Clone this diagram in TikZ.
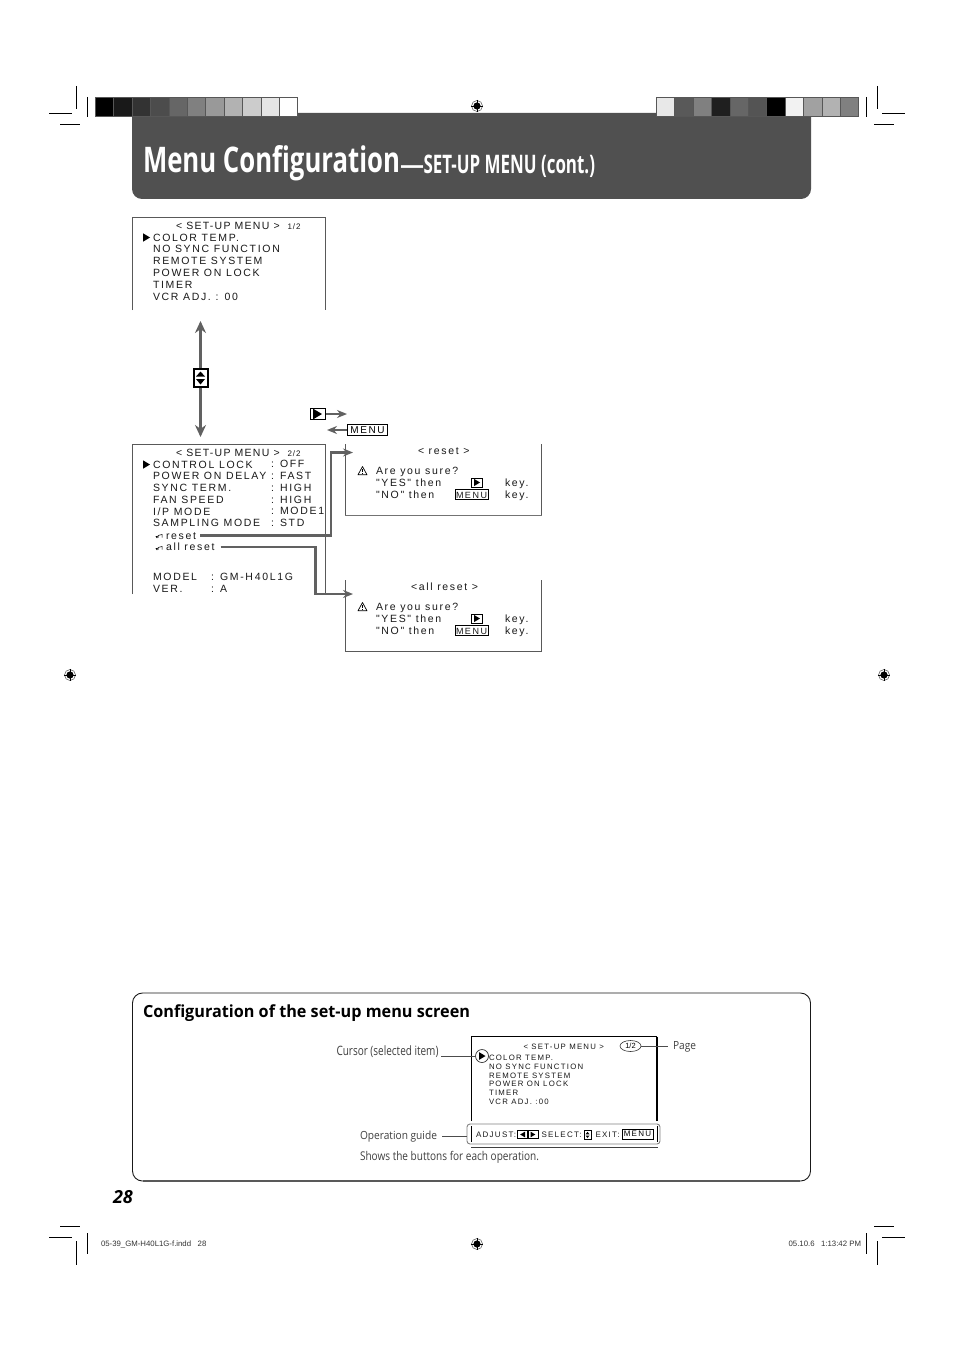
\documentclass[tikz,border=0pt]{standalone}
\usepackage{fontspec}
\usepackage{graphicx}
\usetikzlibrary{arrows.meta,calc,shapes.geometric}
\setmainfont{Open Sans}
\newfontfamily\hv[LetterSpace=16]{Liberation Sans}
\newfontfamily\hvplain{Liberation Sans}
\newfontfamily\hvwide[LetterSpace=12]{Liberation Sans}
\newcounter{lbl}
\tikzset{
  x=1pt,y=-1pt,
  lbl/.style={inner sep=0,outer sep=0,anchor=west,text height=.72em,text depth=0pt,font=\hv\fontsize{10.5}{12}\selectfont,text=black!90},
  small/.style={lbl,font=\hv\fontsize{7.8}{9}\selectfont},
  guide/.style={lbl,font=\hv\fontsize{8}{9}\selectfont},
  note/.style={lbl,font=\fontsize{10}{12}\selectfont,text=black!75},
  crop/.style={line width=.7pt,black},
  scr/.style={line width=.6pt,black!65},
  flow/.style={line width=2.8pt,black!62,-{Stealth[length=10pt,width=8pt]}},
  oparrow/.style={line width=2.4pt,black!62,-{Stealth[length=10pt,width=8pt]}},
  dbl/.style={line width=3.4pt,black!62,{Stealth[length=12pt,width=11pt]}-{Stealth[length=12pt,width=11pt]}},
  lead/.style={line width=.6pt,black!70},
  keybox/.style={line width=.8pt,black},
}
\newcommand\tl[4][lbl]{\stepcounter{lbl}\node[#1] (t\thelbl) at (#2,#3) {#4};}
\newcommand\reg[2]{%
  \draw[line width=.5pt,black!70] (#1,#2) circle (5.5);
  \fill[black] (#1,#2) circle (3.6);
  \draw[line width=.8pt,white] (#1-4,#2) -- (#1+4,#2) (#1,#2-4) -- (#1,#2+4);
  \draw[line width=.3pt,black] (#1-6.2,#2) -- (#1+6.2,#2) (#1,#2-6.2) -- (#1,#2+6.2);}
\newcommand\tri[3]{\fill[black] (#1,#2-#3*.6) -- (#1+#3,#2) -- (#1,#2+#3*.6) -- cycle;}
\newcommand\ltri[3]{\fill[black] (#1,#2-#3*.6) -- (#1-#3,#2) -- (#1,#2+#3*.6) -- cycle;}
\newcommand\playkey[2]{\draw[keybox] (#1-5.5,#2-4.5) rectangle (#1+5.5,#2+4.5); \tri{#1-3}{#2}{6}}
\newcommand\menukey[2]{\draw[keybox] (#1,#2-4.7) rectangle (#1+33,#2+4.7);
  \tl[lbl,font=\hvplain\fontsize{9}{10}\selectfont]{#1+1}{#2}{M\,E\,N\,U}}
\newcommand\warn[2]{\draw[line width=.7pt,black,line join=round] (#1,#2-4.5) -- (#1+4.5,#2+3.8) -- (#1-4.5,#2+3.8) -- cycle;
  \draw[line width=.9pt,black] (#1,#2-2) -- (#1,#2+1.2) (#1,#2+2) -- (#1,#2+3);}
\newcommand\undo[2]{\draw[line width=.5pt,black,-{Stealth[length=2.5pt,width=2.5pt]}] (#1+7,#2+2.5) -- (#1+7,#2-.5) -- (#1+3,#2+.5) -- (#1+3,#2+2.5) -- (#1+.5,#2+1);}
\newcommand\fit[3]{\resizebox{#1pt}{#2pt}{#3}}
\begin{document}
\begin{tikzpicture}
\fill[white] (0,0) rectangle (954,1351);
\useasboundingbox (0,0) rectangle (954,1351);

% title band
\fill[black!68.5] (132,113) -- (811,113) -- (811,189) to[out=270,in=0] (801,199) -- (142,199) to[out=180,in=270] (132,189) -- cycle;
\tl[lbl,font=\bfseries,text=white,anchor=base west,text height=,text depth=]{143}{172.5}{\fit{257}{27}{Menu Configuration}}
\tl[lbl,font=\bfseries\fontsize{24}{26}\selectfont,text=white,anchor=base west,text height=,text depth=]{400}{173.5}{—}
\tl[lbl,font=\bfseries,text=white,anchor=base west,text height=,text depth=]{423.5}{173.5}{\fit{171.5}{18.5}{SET-UP MENU (cont.)}}

% colour bars
\fill[black!66] (95,97) rectangle (298,117);
\fill[black!66] (656,97) rectangle (859,117);
\foreach \g [count=\i from 0] in {100,90,80,70,60,50,40,30,20,10,0} {\fill[black!\g] ({96+\i*18.4},98) rectangle ++(17.4,18);}
\foreach \g [count=\i from 0] in {9,65,50,88,60,67,100,5,37,30,50} {\fill[black!\g] ({657+\i*18.4},98) rectangle ++(17.4,18);}

% crop marks
\draw[crop] (76,86) -- (76,109) (49,113.5) -- (72,113.5) (60,124) -- (80,124) (87,97) -- (87,117);
\draw[crop] (877,86) -- (877,109) (882,113.5) -- (905,113.5) (874,124) -- (894,124) (866,97) -- (866,117);
\draw[crop] (60,1226) -- (80,1226) (49,1237) -- (72,1237) (87,1233) -- (87,1254) (76,1241) -- (76,1265);
\draw[crop] (874,1226) -- (894,1226) (882,1237) -- (905,1237) (866,1233) -- (866,1254) (877,1241) -- (877,1265);
\reg{477}{106}\reg{70}{675}\reg{884}{675}\reg{477}{1244}

% menu 1/2
\draw[scr] (132.5,310) -- (132.5,217.5) -- (325.5,217.5) -- (325.5,310);
\tl[lbl,font=\hvwide\fontsize{10.5}{12}\selectfont]{176}{226}{< SET-UP MENU >}
\tl[lbl,font=\hvwide\fontsize{8}{9}\selectfont]{287.5}{226}{1/2}
\tri{143}{237.5}{7}
\tl{153}{237.5}{COLOR TEMP.}
\tl{153}{249}{NO SYNC FUNCTION}
\tl{153}{261}{REMOTE SYSTEM}
\tl{153}{272.5}{POWER ON LOCK}
\tl{153}{284.5}{TIMER}
\tl{153}{296.5}{VCR ADJ. : 00}

% scroll arrow
\coordinate (scrolltop) at (200.5,321);
\coordinate (scrollbot) at (200.5,437);
\draw[dbl] (scrolltop) -- (scrollbot);
\draw[line width=2pt,black,fill=white] (193.5,369) rectangle (207.5,386.5);
\fill[black] (196,376.5) -- (200.5,371.5) -- (205,376.5) -- cycle;
\fill[black] (196,379) -- (200.5,384.5) -- (205,379) -- cycle;

% key arrows
\node[draw=black,line width=1.4pt,inner sep=0,minimum width=15pt,minimum height=11.5pt] (playkey) at (318,414) {};
\tri{313}{414}{9}
\coordinate (playtip) at (347,414);
\draw[oparrow] (playkey.east) -- (playtip);
\node[draw=black,line width=.9pt,inner sep=0,minimum width=40.5pt,minimum height=11pt,font=\hv\fontsize{10}{11}\selectfont] (menukey) at (367.5,430) {MENU};
\coordinate (menutip) at (327,430);
\draw[oparrow] (menukey.west) -- (menutip);

% menu 2/2
\draw[scr] (132.5,594) -- (132.5,444.5) -- (325.5,444.5) -- (325.5,594);
\tl[lbl,font=\hvwide\fontsize{10.5}{12}\selectfont]{176}{452.5}{< SET-UP MENU >}
\tl[lbl,font=\hvwide\fontsize{8}{9}\selectfont]{287.5}{452.5}{2/2}
\tri{143}{464.5}{7}
\tl{153}{464.5}{CONTROL LOCK}
\tl{271}{464}{: OFF}
\tl{153}{476}{POWER ON DELAY}
\tl{271}{476}{: FAST}
\tl{153}{487.5}{SYNC TERM.}
\tl{271}{487.5}{: HIGH}
\tl{153}{499.5}{FAN SPEED}
\tl{271}{499.5}{: HIGH}
\tl{153}{511.5}{I/P MODE}
\tl{271}{510.5}{: MODE1}
\tl{153}{522.5}{SAMPLING MODE}
\tl{271}{522.5}{: STD}
\undo{155}{535}
\node[lbl] (resetitem) at (166,535.5) {reset};
\undo{155}{547}
\node[lbl] (allitem) at (166,547) {all reset};
\tl{153}{576.5}{MODEL}
\tl{211}{576.5}{: GM-H40L1G}
\tl{153}{588.5}{VER.}
\tl{211}{588.5}{: A}

% confirmation screens
\draw[scr] (345.5,444) -- (345.5,515.5);
\draw[scr] (541.5,444) -- (541.5,515.5);
\draw[line width=1.5pt,black!55] (345,515.5) -- (542,515.5);
\draw[scr] (345.5,580) -- (345.5,651.5) -- (541.5,651.5) -- (541.5,580);
\coordinate (resetin) at (353,452.5);
\coordinate (resetbend) at (331,452.5);
\coordinate (allin) at (353,594);
\coordinate (allbend) at (315.5,594);
\draw[flow,shorten <=4pt] (resetitem.east) -| (resetbend) -- (resetin);
\draw[flow,shorten <=6pt] (allitem.east) -| (allbend) -- (allin);

\tl{418}{451}{< reset >}
\warn{362.5}{471}
\tl{376}{471}{Are you sure?}
\tl{376}{483}{"YES" then}
\tl{505}{483}{key.}
\tl{376}{495}{"NO" then}
\tl{505}{495}{key.}
\playkey{477}{482.5}
\menukey{455}{494.5}

\tl{411}{587}{<all reset >}
\warn{362.5}{607}
\tl{376}{607}{Are you sure?}
\tl{376}{619}{"YES" then}
\tl{505}{619}{key.}
\tl{376}{631}{"NO" then}
\tl{505}{631}{key.}
\playkey{477}{618.5}
\menukey{455}{630.5}

% bottom panel
\draw[line width=.9pt,black!90,rounded corners=10pt] (132.5,993) rectangle (810.5,1181);
\draw[line width=1.6pt,black!65] (143,1181) -- (800,1181);
\tl[lbl,font=\bfseries,text=black,anchor=base west,text height=,text depth=]{143}{1017}{\fit{327}{12.8}{Configuration of the set-up menu screen}}

% sample screen
\draw[line width=.7pt,black] (471.5,1121) -- (471.5,1036.5) -- (657,1036.5);
\draw[line width=1.2pt,black] (657,1036.5) -- (657,1121);
\draw[line width=1pt,black!75] (471,1147) -- (658,1147);
\tl[small]{523.5}{1046}{< SET-UP MENU >}
\node[draw=black!80,line width=.6pt,ellipse,inner sep=0,minimum width=21pt,minimum height=11pt,font=\hvplain\fontsize{7.5}{8}\selectfont] (pageoval) at (630.5,1046) {1/2};
\tl[small]{489}{1056.5}{COLOR TEMP.}
\tl[small]{489}{1066}{NO SYNC FUNCTION}
\tl[small]{489}{1074.5}{REMOTE SYSTEM}
\tl[small]{489}{1083}{POWER ON LOCK}
\tl[small]{489}{1092}{TIMER}
\tl[small]{489}{1101}{VCR ADJ. :00}
\node[draw=black!80,line width=.7pt,circle,inner sep=0,minimum size=13pt] (cursor) at (482,1056) {};
\tri{479}{1056}{6.5}

\node[note,anchor=east] (cursorlbl) at (438.5,1052) {\fit{102}{9.8}{Cursor (selected item)}};
\node[note] (pagelbl) at (673,1045.5) {\fit{23}{8}{Page}};
\node[note] (oplbl) at (360,1135.5) {\fit{77}{8.5}{Operation guide}};
\tl[note]{360}{1156.5}{\fit{179}{9.2}{Shows the buttons for each operation.}}
\coordinate (curknee) at (441,1056);
\draw[lead] (curknee) -- (cursor.west);
\coordinate (pageend) at (668,1046);
\draw[lead] (pageoval.east) -- (pageend);

% guide
\node[draw=black!50,line width=.9pt,rounded corners=3pt,inner sep=0,minimum width=193pt,minimum height=20pt] (guidebox) at (563.5,1134) {};
\coordinate (opend) at (442,1136);
\draw[lead] (opend) -- (opend -| guidebox.west);
\draw[line width=.8pt,black] (471.5,1126) -- (471.5,1142);
\draw[line width=.8pt,black] (657,1126) -- (657,1142);
\tl[guide]{476}{1134}{ADJUST:}
\draw[line width=.7pt,black] (517.5,1130.5) rectangle (527,1138.5);
\ltri{525}{1134.5}{4.8}
\draw[line width=.7pt,black] (528.5,1130.5) rectangle (538,1138.5);
\tri{530.5}{1134.5}{4.8}
\tl[guide]{541.5}{1134}{SELECT:}
\draw[line width=.7pt,black] (584,1130.5) rectangle (591,1139);
\fill[black] (585.5,1134.3) -- (587.5,1131.8) -- (589.5,1134.3) -- cycle;
\fill[black] (585.5,1135.5) -- (587.5,1138) -- (589.5,1135.5) -- cycle;
\tl[guide]{595.5}{1134}{EXIT:}
\node[draw=black,line width=.7pt,inner sep=0,minimum width=31pt,minimum height=10pt,font=\hv\fontsize{8}{9}\selectfont] (exitkey) at (637.5,1134) {MENU};

% page no. and slug
\tl[lbl,font=\bfseries\itshape\fontsize{18}{20}\selectfont,text=black]{113}{1200}{28}
\tl[lbl,font=\hvplain\fontsize{7.8}{9}\selectfont,text=black!80]{101}{1243}{05-39\_GM-H40L1G-f.indd\ \ \ 28}
\node[lbl,anchor=east,font=\hvplain\fontsize{7.8}{9}\selectfont,text=black!80] (stamp) at (861,1243) {05.10.6\ \ \ 1:13:42 PM};
\end{tikzpicture}
\end{document}
